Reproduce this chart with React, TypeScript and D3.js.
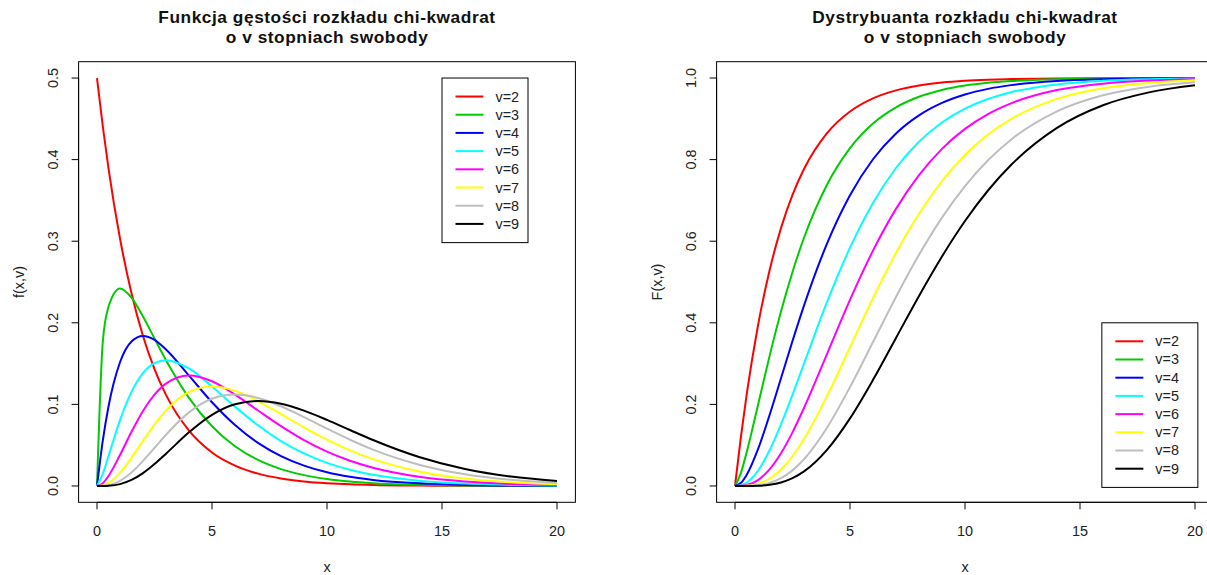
import React from "react";
import * as d3 from "d3";

const xs = [0, 0.25, 0.5, 1, 1.5, 2, 2.5, 3, 4, 5, 6, 7, 8, 9, 10, 11, 12, 14, 16, 18, 20];
const dfs = [2, 3, 4, 5, 6, 7, 8, 9];
const colors = ["#FF0000", "#00CD00", "#0000FF", "#00FFFF", "#FF00FF", "#FFFF00", "#BEBEBE", "#000000"];

const pdf2 = [0.5, 0.4412, 0.3894, 0.3033, 0.2362, 0.1839, 0.1433, 0.1116, 0.0677, 0.041, 0.0249, 0.0151, 0.0092, 0.0056, 0.0034, 0.002, 0.0012, 0.0005, 0.0002, 0.0001, 0.0];
const pdf3 = [0, 0.176, 0.2197, 0.242, 0.2308, 0.2076, 0.1807, 0.1542, 0.108, 0.0732, 0.0487, 0.0319, 0.0207, 0.0133, 0.0085, 0.0054, 0.0034, 0.0014, 0.0005, 0.0002, 0.0001];
const pdf4 = [0, 0.0552, 0.0974, 0.1516, 0.1771, 0.1839, 0.1791, 0.1673, 0.1353, 0.1026, 0.0747, 0.0528, 0.0366, 0.025, 0.0168, 0.0112, 0.0074, 0.0032, 0.0013, 0.0006, 0.0002];
const pdf5 = [0, 0.0147, 0.0366, 0.0807, 0.1154, 0.1384, 0.1506, 0.1542, 0.144, 0.122, 0.0973, 0.0744, 0.0551, 0.0399, 0.0283, 0.0198, 0.0137, 0.0064, 0.0029, 0.0013, 0.0005];
const pdf6 = [0, 0.0034, 0.0122, 0.0379, 0.0664, 0.092, 0.1119, 0.1255, 0.1353, 0.1283, 0.112, 0.0925, 0.0733, 0.0562, 0.0421, 0.0309, 0.0223, 0.0112, 0.0054, 0.0025, 0.0011];
const pdf7 = [0, 0.0007, 0.0037, 0.0161, 0.0346, 0.0553, 0.0753, 0.0925, 0.1152, 0.122, 0.1168, 0.1041, 0.0882, 0.0718, 0.0567, 0.0436, 0.0329, 0.0178, 0.0091, 0.0045, 0.0022];
const pdf8 = [0, 0.0001, 0.001, 0.0063, 0.0166, 0.0307, 0.0466, 0.0628, 0.0902, 0.1069, 0.112, 0.1079, 0.0977, 0.0844, 0.0702, 0.0567, 0.0446, 0.0261, 0.0143, 0.0075, 0.0038];
const pdf9 = [0, 0.0, 0.0003, 0.0023, 0.0074, 0.0158, 0.0269, 0.0396, 0.0658, 0.0872, 0.1001, 0.1041, 0.1008, 0.0923, 0.081, 0.0686, 0.0564, 0.0356, 0.0209, 0.0116, 0.0062];

const cdf2 = [0, 0.1175, 0.2212, 0.3935, 0.5276, 0.6321, 0.7135, 0.7769, 0.8647, 0.9179, 0.9502, 0.9698, 0.9817, 0.9889, 0.9933, 0.9959, 0.9975, 0.9991, 0.9997, 0.9999, 1.0];
const cdf3 = [0, 0.0309, 0.0811, 0.1987, 0.3177, 0.4276, 0.5247, 0.6084, 0.7385, 0.8282, 0.8884, 0.9281, 0.954, 0.9707, 0.9814, 0.9883, 0.9926, 0.9971, 0.9989, 0.9996, 0.9998];
const cdf4 = [0, 0.0072, 0.0265, 0.0902, 0.1734, 0.2642, 0.3554, 0.4422, 0.594, 0.7127, 0.8009, 0.8641, 0.9084, 0.9389, 0.9596, 0.9734, 0.9826, 0.9927, 0.997, 0.9988, 0.9995];
const cdf5 = [0, 0.0015, 0.0079, 0.0374, 0.0869, 0.1509, 0.2235, 0.3, 0.4506, 0.5841, 0.6938, 0.7794, 0.8438, 0.8909, 0.9248, 0.9486, 0.9652, 0.9844, 0.9932, 0.9971, 0.9988];
const cdf6 = [0, 0.0003, 0.0022, 0.0144, 0.0405, 0.0803, 0.1315, 0.1912, 0.3233, 0.4562, 0.5768, 0.6792, 0.7619, 0.8264, 0.8753, 0.9116, 0.938, 0.9704, 0.9862, 0.9938, 0.9972];
const cdf7 = [0, 0.0001, 0.0006, 0.0052, 0.0177, 0.0402, 0.0729, 0.115, 0.2202, 0.34, 0.4603, 0.5711, 0.6674, 0.7473, 0.8114, 0.8614, 0.8994, 0.9488, 0.9749, 0.988, 0.9944];
const cdf8 = [0, 0.0, 0.0001, 0.0018, 0.0073, 0.019, 0.0383, 0.0656, 0.1429, 0.2424, 0.3528, 0.4634, 0.5665, 0.6577, 0.735, 0.7983, 0.8488, 0.9182, 0.9576, 0.9788, 0.9897];
const cdf9 = [0, 0.0, 0.0, 0.0006, 0.0029, 0.0085, 0.0191, 0.0357, 0.0886, 0.1657, 0.2601, 0.3629, 0.4659, 0.5627, 0.6495, 0.7243, 0.7867, 0.8777, 0.9332, 0.9648, 0.9821];

const pdfSeries = [pdf2, pdf3, pdf4, pdf5, pdf6, pdf7, pdf8, pdf9];
const cdfSeries = [cdf2, cdf3, cdf4, cdf5, cdf6, cdf7, cdf8, cdf9];

const xTicks = [0, 5, 10, 15, 20];
const pdfTicks = [0, 0.1, 0.2, 0.3, 0.4, 0.5];
const cdfTicks = [0, 0.2, 0.4, 0.6, 0.8, 1.0];

const FONT = "'Liberation Sans', Arial, sans-serif";
const FS = 14.4;
const TFS = 17.3;

type PanelProps = {
  left: number;
  title: string[];
  ylab: string;
  series: number[][];
  yMax: number;
  yTicks: number[];
  legendX: number;
  legendY: number;
  legendW: number;
};

function Panel({ left, title, ylab, series, yMax, yTicks, legendX, legendY, legendW }: PanelProps) {
  const boxL = left;
  const boxR = left + 496.8;
  const boxT = 61.7;
  const boxB = 502.3;
  const x = d3.scaleLinear().domain([-0.8, 20.8]).range([boxL, boxR]);
  const pad = yMax * 0.04;
  const y = d3.scaleLinear().domain([-pad, yMax + pad]).range([boxB, boxT]);
  const line = d3
    .line<number>()
    .x((_, i) => x(xs[i]))
    .y((d) => y(d))
    .curve(d3.curveMonotoneX);
  const cx = (boxL + boxR) / 2;
  const lx = x(legendX);
  const ly = y(legendY);
  const rowH = 18.2;
  const legendH = rowH * dfs.length + 19;
  return (
    <g>
      <text x={cx} y={23.3} textAnchor="middle" fontFamily={FONT} fontWeight="bold" fontSize={TFS} letterSpacing={0.55} fill="#111">
        {title[0]}
      </text>
      <text x={cx} y={43.3} textAnchor="middle" fontFamily={FONT} fontWeight="bold" fontSize={TFS} letterSpacing={0.55} fill="#111">
        {title[1]}
      </text>
      {series.map((s, i) => (
        <path key={i} d={line(s) || ""} fill="none" stroke={colors[i]} strokeWidth={2} />
      ))}
      <rect x={boxL} y={boxT} width={boxR - boxL} height={boxB - boxT} fill="none" stroke="#000" strokeWidth={1} />
      {/* x axis */}
      <line x1={x(0)} x2={x(20)} y1={boxB} y2={boxB} stroke="#000" />
      {xTicks.map((t) => (
        <g key={t}>
          <line x1={x(t)} x2={x(t)} y1={boxB} y2={boxB + 7} stroke="#000" />
          <text x={x(t)} y={536} textAnchor="middle" fontFamily={FONT} fontSize={FS} fill="#222">
            {t}
          </text>
        </g>
      ))}
      <text x={cx} y={572} textAnchor="middle" fontFamily={FONT} fontSize={FS} fill="#222">
        x
      </text>
      {/* y axis */}
      <line x1={boxL} x2={boxL} y1={y(0)} y2={y(yMax)} stroke="#000" />
      {yTicks.map((t) => (
        <g key={t}>
          <line x1={boxL} x2={boxL - 7} y1={y(t)} y2={y(t)} stroke="#000" />
          <text
            transform={`translate(${boxL - 20.5},${y(t)}) rotate(-90)`}
            textAnchor="middle"
            fontFamily={FONT}
            fontSize={FS}
            fill="#222"
          >
            {t.toFixed(1)}
          </text>
        </g>
      ))}
      <text
        transform={`translate(${boxL - 55},${(boxT + boxB) / 2}) rotate(-90)`}
        textAnchor="middle"
        fontFamily={FONT}
        fontSize={FS}
        fill="#222"
      >
        {ylab}
      </text>
      {/* legend */}
      <rect x={lx} y={ly} width={legendW} height={legendH} fill="#fff" stroke="#000" strokeWidth={1} />
      {dfs.map((v, i) => (
        <g key={v}>
          <line
            x1={lx + 13.5}
            x2={lx + 41.5}
            y1={ly + 18.5 + i * rowH}
            y2={ly + 18.5 + i * rowH}
            stroke={colors[i]}
            strokeWidth={2}
          />
          <text x={lx + 53.5} y={ly + 18.5 + i * rowH + 5} fontFamily={FONT} fontSize={FS} fill="#222">
            {`v=${v}`}
          </text>
        </g>
      ))}
    </g>
  );
}

export default function App() {
  return (
    <svg width={1207} height={575} style={{ position: "absolute", left: 0, top: 0, background: "#fff" }}>
      <rect x={0} y={0} width={1207} height={575} fill="#fff" />
      <Panel
        left={78.6}
        title={["Funkcja gęstości rozkładu chi-kwadrat", "o v stopniach swobody"]}
        ylab="f(x,v)"
        series={pdfSeries}
        yMax={0.5}
        yTicks={pdfTicks}
        legendX={15}
        legendY={0.5}
        legendW={86}
      />
      <Panel
        left={716.6}
        title={["Dystrybuanta rozkładu chi-kwadrat", "o v stopniach swobody"]}
        ylab="F(x,v)"
        series={cdfSeries}
        yMax={1.0}
        yTicks={cdfTicks}
        legendX={15.95}
        legendY={0.4}
        legendW={96}
      />
    </svg>
  );
}
